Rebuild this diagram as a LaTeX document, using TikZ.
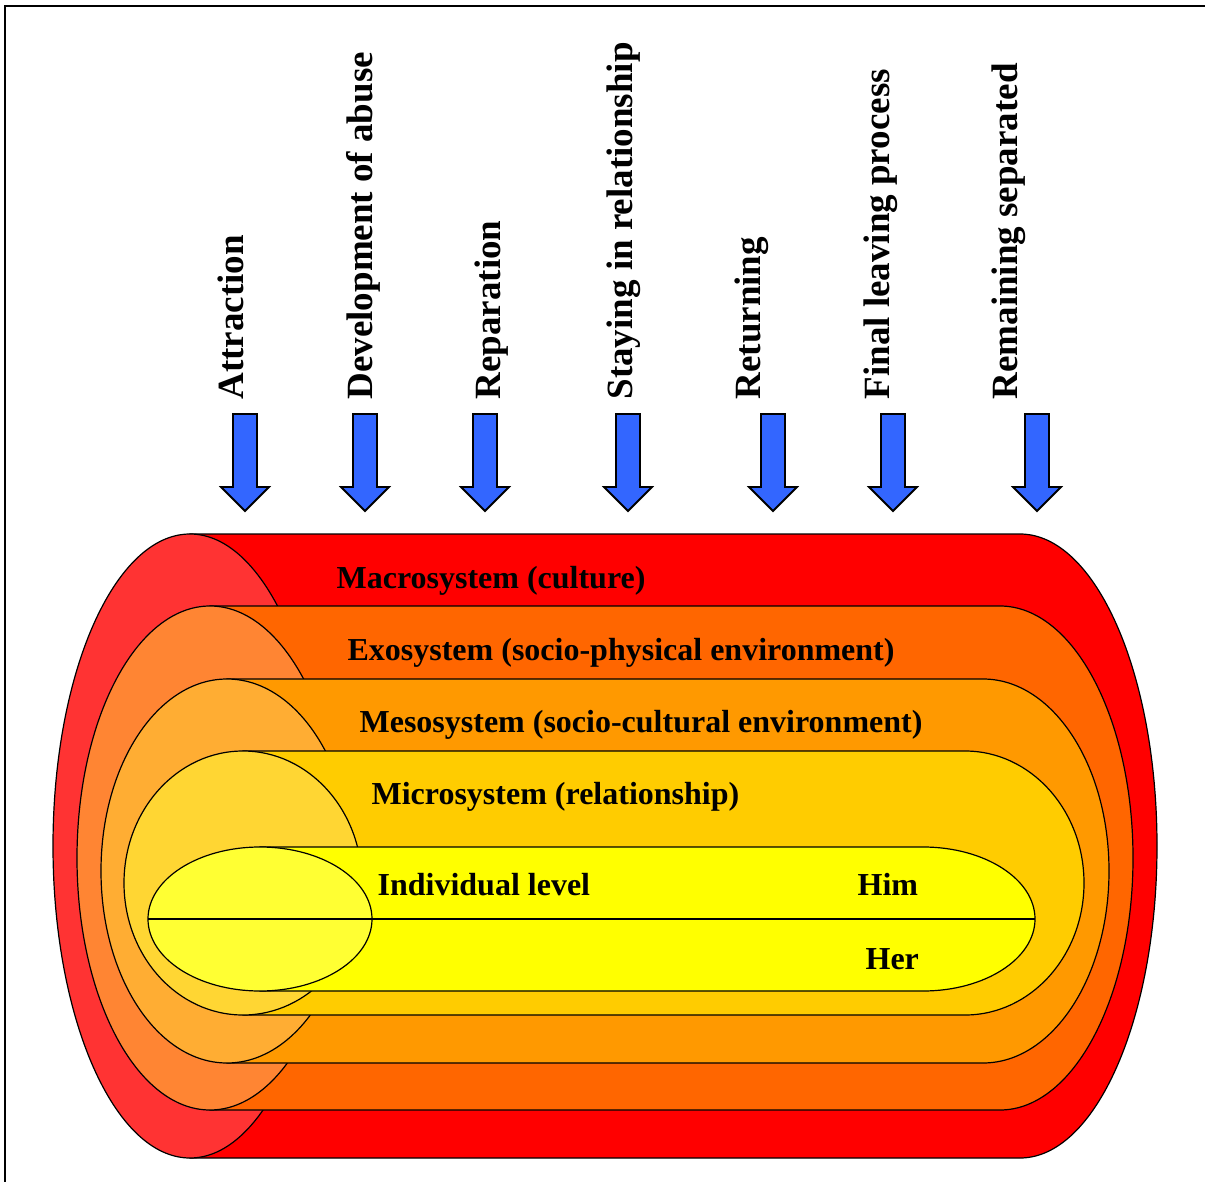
\documentclass[tikz,border=0pt]{standalone}
\usepackage{fontspec}
\setmainfont{Liberation Serif}
\definecolor{macro}{HTML}{FF0000}
\definecolor{macrocap}{HTML}{FF3333}
\definecolor{exo}{HTML}{FF6600}
\definecolor{exocap}{HTML}{FF8533}
\definecolor{meso}{HTML}{FF9900}
\definecolor{mesocap}{HTML}{FFAD33}
\definecolor{micro}{HTML}{FFCC00}
\definecolor{microcap}{HTML}{FFD633}
\definecolor{indiv}{HTML}{FFFF00}
\definecolor{indivcap}{HTML}{FFFF33}
\definecolor{phaseblue}{HTML}{3366FF}
\begin{document}
\begin{tikzpicture}[x=1pt, y=-1pt, line width=1.2pt,
  phase/.style={font=\bfseries\fontsize{37}{40}\selectfont, rotate=90, anchor=base west, inner sep=0pt},
  level/.style={font=\bfseries\fontsize{32}{36}\selectfont, anchor=base west, inner sep=0pt}]
\useasboundingbox (0,0) rectangle (1205,1182);
\draw[line width=2.4pt](5,1190)--(5,6)--(1212,6);

\foreach \cl/\cr/\cy/\rx/\ry/\body/\cap in {190/1020/846/137/312/macro/macrocap,
  210/1000/858/133/252/exo/exocap, 227/983/871/126/192/meso/mesocap,
  243/965/883/119/132/micro/microcap, 260/923/919/112/72/indiv/indivcap}
{
    \draw[fill=\body](\cl,\cy-\ry)--(\cr,\cy-\ry)
      arc[start angle=-90, end angle=90, x radius=\rx, y radius=\ry]--(\cl,\cy+\ry)--cycle;
    \draw[fill=\cap](\cl,\cy) ellipse[x radius=\rx, y radius=\ry];
}
\coordinate (hl) at (148,919);
\coordinate (hr) at (1035,919);
\draw(hl)--(hr);

\foreach \x in {245,365,485,628,773,893,1037}
{
    \draw[fill=phaseblue, line width=1.8pt](\x-12,414)--(\x+12,414)--(\x+12,487)--(\x+24,487)
      --(\x,511)--(\x-24,487)--(\x-12,487)--cycle;
}
\foreach \x/\t [count=\i] in {243/Attraction, 372/Development of abuse, 500/Reparation,
  632/Staying in relationship, 760/Returning, 889/Final leaving process, 1017/Remaining separated}
{
    \node[phase](phase\i) at (\x,400){\t};
}

\node[level](macrotxt) at (336,588){Macrosystem (culture)};
\node[level](exotxt) at (347,660){Exosystem (socio-physical environment)};
\node[level](mesotxt) at (359,732){Mesosystem (socio-cultural environment)};
\node[level](microtxt) at (371,804){Microsystem (relationship)};
\node[level](indivtxt) at (377,895){Individual level};
\node[level](him) at (857,895){Him};
\node[level](her) at (865,969){Her};
\end{tikzpicture}
\end{document}
